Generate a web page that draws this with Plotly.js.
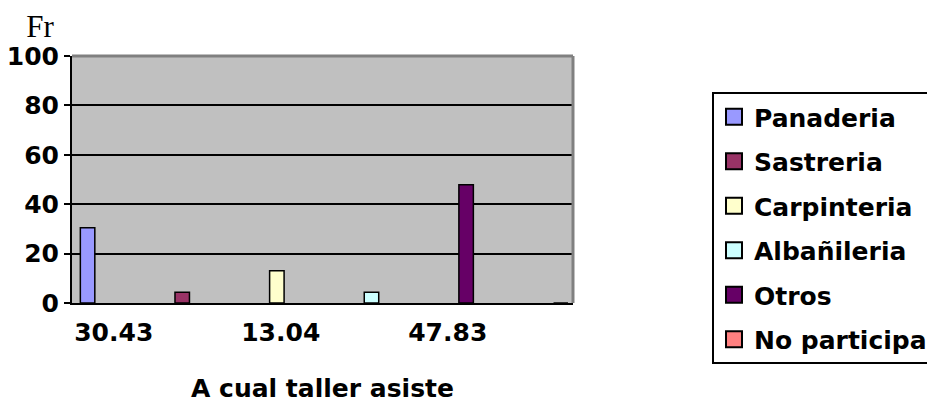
<!DOCTYPE html>
<html>
<head>
<meta charset="utf-8">
<script src="https://cdn.plot.ly/plotly-3.0.1.min.js"></script>
<style>
  html, body { margin: 0; padding: 0; background: #ffffff; }
  #chart { width: 927px; height: 403px; }
</style>
</head>
<body>
<div id="chart"></div>
<script>
// ---- data ----
const categories = ['30.43', '4.35', '13.04', '4.35', '47.83', '0'];
const seriesNames = ['Panaderia', 'Sastreria', 'Carpinteria', 'Albañileria', 'Otros', 'No participa'];
const seriesValues = [30.43, 4.35, 13.04, 4.35, 47.83, 0];
const seriesColors = ['#9999FF', '#993366', '#FFFFCC', '#CCFFFF', '#660066', '#FF8080'];
const yTicks = [0, 20, 40, 60, 80, 100];
const xTitle = 'A cual taller asiste';
const yTitle = 'Fr';

const boldFont = 'DejaVu Sans, Arial, sans-serif';

// Excel shows every other category label
const shownTickIdx = categories.map((c, i) => i).filter(i => i % 2 === 0);

// clustered layout: each series keeps its own slot inside a category group
const groupWidth = 0.8;
const slot = groupWidth / seriesNames.length;
const barW = slot * 1.3;

const traces = [];
seriesNames.forEach((name, i) => {
  const slotCenter = -groupWidth / 2 + (i + 0.5) * slot + 0.02;
  traces.push({
    type: 'bar',
    name: name,
    x: [i],
    y: [seriesValues[i]],
    width: barW,
    offset: slotCenter - barW / 2,
    marker: { color: seriesColors[i], line: { color: '#000000', width: 1.5 } },
    legendgroup: name,
    showlegend: false,
    hoverinfo: 'name+y'
  });
});
// legend entries (bigger square swatches)
seriesNames.forEach((name, i) => {
  traces.push({
    type: 'scatter',
    mode: 'markers',
    name: name,
    x: [null],
    y: [null],
    marker: { symbol: 'square', size: 16, color: seriesColors[i], line: { color: '#000000', width: 2 } },
    legendgroup: name,
    showlegend: true,
    hoverinfo: 'skip'
  });
});

const layout = {
  width: 927,
  height: 403,
  margin: { l: 72, r: 354, t: 56, b: 100, autoexpand: false },
  paper_bgcolor: '#ffffff',
  plot_bgcolor: '#c0c0c0',
  barmode: 'overlay',
  showlegend: true,
  title: {
    text: yTitle,
    x: 40 / 927, xanchor: 'center', xref: 'container',
    y: 1 - 26 / 403, yanchor: 'middle', yref: 'container',
    font: { family: 'Liberation Serif, Times New Roman, serif', size: 31, color: '#000000' }
  },
  xaxis: {
    type: 'linear',
    range: [-0.5, categories.length - 0.5],
    tickmode: 'array',
    tickvals: shownTickIdx,
    ticktext: shownTickIdx.map(i => categories[i]),
    ticks: '',
    ticklabelstandoff: 6,
    showgrid: false,
    zeroline: false,
    showline: true,
    linecolor: '#000000',
    linewidth: 2,
    tickfont: { family: boldFont, size: 25, color: '#000000', weight: 'bold' },
    title: {
      text: xTitle,
      standoff: 42,
      font: { family: boldFont, size: 25, color: '#000000', weight: 'bold' }
    },
    fixedrange: true
  },
  yaxis: {
    range: [0, 100],
    tickmode: 'array',
    tickvals: yTicks,
    ticks: 'outside',
    ticklen: 6,
    tickwidth: 2,
    tickcolor: '#000000',
    showline: true,
    linecolor: '#000000',
    linewidth: 2,
    showgrid: true,
    gridcolor: '#000000',
    gridwidth: 2,
    zeroline: false,
    tickfont: { family: boldFont, size: 25, color: '#000000', weight: 'bold' },
    fixedrange: true
  },
  legend: {
    x: (712 - 72) / 501,
    xanchor: 'left',
    y: (303 - 92) / 247,
    yanchor: 'top',
    maxheight: 320,
    bgcolor: '#ffffff',
    bordercolor: '#000000',
    borderwidth: 2,
    traceorder: 'grouped',
    tracegroupgap: 9,
    font: { family: boldFont, size: 25, color: '#000000', weight: 'bold' }
  },
  shapes: [
    { type: 'line', xref: 'paper', yref: 'paper', x0: 0, x1: 1, y0: 1, y1: 1, line: { color: '#808080', width: 3 }, layer: 'above' },
    { type: 'line', xref: 'paper', yref: 'paper', x0: 1, x1: 1, y0: 0, y1: 1, line: { color: '#808080', width: 3 }, layer: 'above' }
  ]
};

Plotly.newPlot('chart', traces, layout, { displayModeBar: false, staticPlot: true });
</script>
</body>
</html>
